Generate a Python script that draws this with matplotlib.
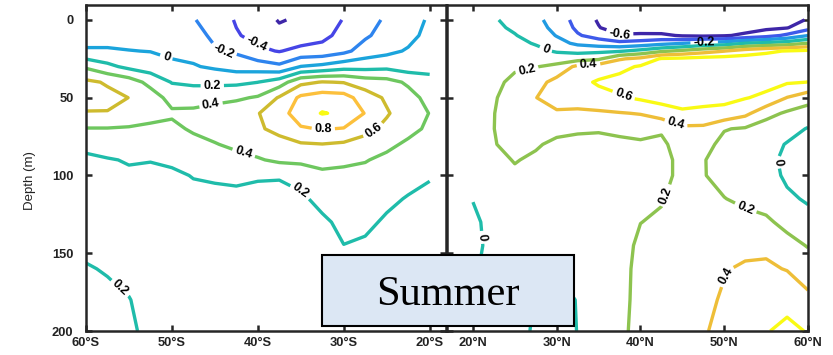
import numpy as np
import matplotlib.pyplot as plt
from matplotlib.colors import LinearSegmentedColormap
from matplotlib.patches import Rectangle

plt.rcParams['font.family'] = ['Liberation Sans', 'DejaVu Sans']
plt.rcParams['font.weight'] = 'bold'

# parula-style ramp used for the contour lines
parula = LinearSegmentedColormap.from_list(
    'parula', ['#3e26a8', '#4646e8', '#2d86ee', '#1ba5dc', '#1ebcab',
               '#6cc760', '#cfbb2e', '#fcc03c', '#f9fa14'])

# ---- southern hemisphere section ----
lat_s = [-60, -57.5, -55, -52.5, -50, -47.5, -45, -42.5, -40,
         -37.5, -35, -32.5, -30, -27.5, -25, -22.5, -20]
depth_s = [0, 10, 20, 30, 40, 50, 60, 70, 80, 90, 100, 115, 130, 145, 160, 180, 200]
# one depth profile per latitude
profiles_s = [
    [-0.15, -0.07, 0.02, 0.37, 0.64, 0.66, 0.59, 0.39, 0.24, 0.17, 0.15, 0.14, 0.15, 0.17, 0.21, 0.25, 0.27],
    [-0.14, -0.07, 0.02, 0.25, 0.58, 0.65, 0.59, 0.39, 0.27, 0.19, 0.15, 0.13, 0.13, 0.15, 0.19, 0.23, 0.24],
    [-0.13, -0.07, 0.005, 0.15, 0.50, 0.598, 0.53, 0.38, 0.28, 0.21, 0.18, 0.14, 0.13, 0.14, 0.16, 0.205, 0.22],
    [-0.12, -0.06, -0.005, 0.10, 0.34, 0.50, 0.47, 0.36, 0.27, 0.205, 0.17, 0.14, 0.12, 0.12, 0.13, 0.15, 0.17],
    [-0.17, -0.10, -0.04, 0.04, 0.19, 0.33, 0.43, 0.35, 0.28, 0.22, 0.18, 0.14, 0.12, 0.11, 0.11, 0.12, 0.13],
    [-0.19, -0.13, -0.06, 0.015, 0.17, 0.30, 0.45, 0.43, 0.33, 0.26, 0.205, 0.17, 0.14, 0.12, 0.11, 0.11, 0.11],
    [-0.27, -0.24, -0.18, -0.03, 0.16, 0.33, 0.50, 0.47, 0.39, 0.30, 0.215, 0.17, 0.14, 0.12, 0.11, 0.10, 0.10],
    [-0.42, -0.38, -0.23, -0.08, 0.16, 0.37, 0.52, 0.52, 0.44, 0.34, 0.225, 0.17, 0.14, 0.12, 0.11, 0.10, 0.10],
    [-0.53, -0.47, -0.36, -0.10, 0.198, 0.42, 0.59, 0.58, 0.50, 0.38, 0.21, 0.17, 0.15, 0.13, 0.12, 0.11, 0.10],
    [-0.61, -0.56, -0.41, -0.16, 0.30, 0.62, 0.72, 0.64, 0.55, 0.44, 0.205, 0.18, 0.16, 0.14, 0.13, 0.12, 0.11],
    [-0.58, -0.52, -0.34, 0.005, 0.55, 0.84, 0.90, 0.78, 0.58, 0.45, 0.26, 0.17, 0.16, 0.15, 0.14, 0.13, 0.12],
    [-0.50, -0.45, -0.33, 0.05, 0.61, 0.90, 1.01, 0.81, 0.595, 0.46, 0.36, 0.25, 0.17, 0.15, 0.14, 0.14, 0.13],
    [-0.39, -0.34, -0.25, 0.12, 0.59, 0.88, 0.97, 0.79, 0.57, 0.44, 0.35, 0.29, 0.24, 0.198, 0.18, 0.16, 0.15],
    [-0.28, -0.23, -0.11, 0.13, 0.50, 0.70, 0.79, 0.66, 0.52, 0.41, 0.35, 0.30, 0.23, 0.18, 0.17, 0.16, 0.15],
    [-0.17, -0.12, -0.05, 0.15, 0.47, 0.57, 0.62, 0.55, 0.44, 0.36, 0.30, 0.23, 0.18, 0.16, 0.16, 0.16, 0.15],
    [-0.10, -0.06, 0.02, 0.10, 0.37, 0.47, 0.49, 0.45, 0.37, 0.30, 0.25, 0.19, 0.17, 0.16, 0.16, 0.16, 0.15],
    [0.03, 0.06, 0.10, 0.15, 0.25, 0.34, 0.395, 0.37, 0.31, 0.26, 0.21, 0.17, 0.16, 0.16, 0.16, 0.15, 0.15],
]
levels_s = [-0.6, -0.4, -0.2, 0, 0.2, 0.4, 0.6, 0.8, 1.0]
labels_s = [(-40.1, 15), (-44.1, 21), (-50.6, 23), (-45.3, 42), (-45.5, 53),
            (-32.4, 69), (-26.7, 69.5), (-41.5, 83), (-34.8, 108), (-55.8, 171)]
ticks_s = [-60, -50, -40, -30, -20]
ticklabels_s = ['60°S', '50°S', '40°S', '30°S', '20°S']

# ---- northern hemisphere section ----
lat_n = [20, 22.5, 25, 27.5, 30, 32.5, 35, 37.5, 40,
         42.5, 45, 47.5, 50, 52.5, 55, 57.5, 60]
depth_n = [0, 5, 10, 15, 20, 25, 30, 40, 50, 60, 70, 80, 90, 100, 115, 130, 145, 160, 180, 200]
profiles_n = [
    [0.08, 0.09, 0.10, 0.11, 0.12, 0.13, 0.14, 0.15, 0.16, 0.17, 0.18, 0.17, 0.14, 0.08, 0.005, -0.03, -0.04, -0.02, 0.02, 0.05],
    [0.02, 0.04, 0.06, 0.08, 0.10, 0.11, 0.12, 0.15, 0.18, 0.195, 0.198, 0.19, 0.15, 0.11, 0.07, 0.05, 0.045, 0.05, 0.06, 0.07],
    [-0.065, -0.03, 0.01, 0.05, 0.09, 0.13, 0.17, 0.25, 0.30, 0.32, 0.30, 0.26, 0.21, 0.17, 0.12, 0.08, 0.06, 0.05, 0.045, 0.036],
    [-0.15, -0.12, -0.08, -0.015, 0.05, 0.12, 0.19, 0.32, 0.395, 0.38, 0.31, 0.22, 0.17, 0.13, 0.09, 0.06, 0.04, 0.02, -0.005, -0.014],
    [-0.29, -0.26, -0.21, -0.13, -0.02, 0.105, 0.25, 0.47, 0.50, 0.37, 0.25, 0.16, 0.12, 0.10, 0.07, 0.05, 0.03, 0.005, -0.03, -0.035],
    [-0.47, -0.44, -0.38, -0.24, -0.05, 0.12, 0.45, 0.55, 0.50, 0.36, 0.215, 0.17, 0.14, 0.12, 0.10, 0.08, 0.06, 0.03, 0.004, 0.002],
    [-0.62, -0.59, -0.48, -0.30, -0.04, 0.17, 0.50, 0.62, 0.54, 0.37, 0.21, 0.17, 0.15, 0.14, 0.12, 0.10, 0.09, 0.08, 0.07, 0.07],
    [-0.72, -0.70, -0.58, -0.35, -0.02, 0.38, 0.55, 0.66, 0.58, 0.39, 0.22, 0.18, 0.17, 0.16, 0.15, 0.14, 0.14, 0.14, 0.14, 0.15],
    [-0.75, -0.72, -0.56, -0.32, 0.06, 0.45, 0.62, 0.69, 0.63, 0.41, 0.27, 0.17, 0.16, 0.16, 0.17, 0.198, 0.23, 0.25, 0.26, 0.27],
    [-0.76, -0.73, -0.56, -0.26, 0.17, 0.62, 0.69, 0.71, 0.67, 0.50, 0.22, 0.17, 0.16, 0.16, 0.19, 0.22, 0.25, 0.27, 0.29, 0.30],
    [-0.77, -0.74, -0.62, -0.205, 0.24, 0.64, 0.70, 0.72, 0.68, 0.57, 0.36, 0.27, 0.235, 0.235, 0.25, 0.28, 0.30, 0.32, 0.34, 0.35],
    [-0.76, -0.73, -0.64, -0.13, 0.32, 0.67, 0.70, 0.72, 0.68, 0.54, 0.36, 0.26, 0.21, 0.21, 0.24, 0.28, 0.31, 0.33, 0.36, 0.39],
    [-0.74, -0.71, -0.62, -0.10, 0.395, 0.68, 0.70, 0.70, 0.64, 0.55, 0.21, 0.15, 0.13, 0.14, 0.205, 0.28, 0.36, 0.39, 0.42, 0.43],
    [-0.72, -0.69, -0.56, 0.003, 0.50, 0.68, 0.69, 0.68, 0.61, 0.45, 0.18, 0.10, 0.08, 0.10, 0.16, 0.26, 0.36, 0.42, 0.47, 0.50],
    [-0.68, -0.64, -0.48, 0.05, 0.57, 0.67, 0.68, 0.66, 0.56, 0.27, 0.10, 0.06, 0.05, 0.07, 0.13, 0.23, 0.36, 0.43, 0.53, 0.59],
    [-0.65, -0.61, -0.36, 0.10, 0.61, 0.66, 0.66, 0.62, 0.395, 0.17, 0.06, -0.01, -0.04, -0.03, 0.03, 0.15, 0.26, 0.39, 0.55, 0.64],
    [-0.59, -0.47, -0.205, 0.205, 0.64, 0.67, 0.66, 0.598, 0.29, 0.10, -0.01, -0.06, -0.08, -0.07, -0.02, 0.06, 0.19, 0.29, 0.45, 0.59],
]
levels_n = [-0.6, -0.4, -0.2, 0, 0.2, 0.4, 0.6]
labels_n = [(37.5, 9.5), (47.6, 14), (28.8, 17.4), (26.4, 31), (33.8, 29.5),
            (37.9, 49.5), (44.3, 65.6), (42, 111), (52.6, 120), (56.9, 91),
            (50, 164), (20.7, 140)]
ticks_n = [20, 30, 40, 50, 60]
ticklabels_n = ['20°N', '30°N', '40°N', '50°N', '60°N']

depth_ticks = [0, 50, 100, 150, 200]
frame = '#262626'

fig = plt.figure(figsize=(8.33, 3.55), dpi=100)
ax1 = fig.add_axes([0.1032, 0.0676, 0.4322, 0.9183])
ax2 = fig.add_axes([0.5366, 0.0676, 0.4334, 0.9183])


def section(ax, lat, depth, profiles, levels, marks, ticks, ticklabels, xlim):
    z = np.array(profiles).T
    ax.set_xlim(*xlim)
    ax.set_ylim(200, -9.6)
    cs = ax.contour(lat, depth, z, levels=levels, cmap=parula,
                    vmin=levels[0], vmax=levels[-1], linewidths=2.4)
    ax.clabel(cs, levels, inline=True, inline_spacing=3, fontsize=9,
              colors='k', fmt=lambda v: f'{v:g}', manual=marks)
    ax.set_xticks(ticks)
    ax.set_xticklabels(ticklabels)
    ax.set_yticks(depth_ticks)
    ax.tick_params(direction='in', length=4, width=1.8, color=frame,
                   top=True, right=True, labelsize=9.3, labelcolor='#222222')
    ax.tick_params(axis='x', pad=4)
    ax.tick_params(axis='y', pad=9)
    for sp in ax.spines.values():
        sp.set_linewidth(1.8)
        sp.set_color(frame)
    return cs


section(ax1, lat_s, depth_s, profiles_s, levels_s, labels_s, ticks_s, ticklabels_s, (-60, -18.1))
section(ax2, lat_n, depth_n, profiles_n, levels_n, labels_n, ticks_n, ticklabels_n, (16.9, 60))
ax2.set_yticklabels([])

ax1.set_ylabel('Depth (m)', fontsize=9.5, color='#222222')
ax1.yaxis.set_label_coords(-0.138, 0.463)

# season tag
fig.add_artist(Rectangle((0.3866, 0.0817), 0.3025, 0.2, transform=fig.transFigure,
                         facecolor='#dce7f4', edgecolor='black', linewidth=1.5, zorder=5))
fig.text(0.5378, 0.1408, 'Summer', family='Liberation Serif', weight='normal',
         fontsize=30.5, ha='center', va='baseline', zorder=6)

fig.savefig('out.png', dpi=100)
